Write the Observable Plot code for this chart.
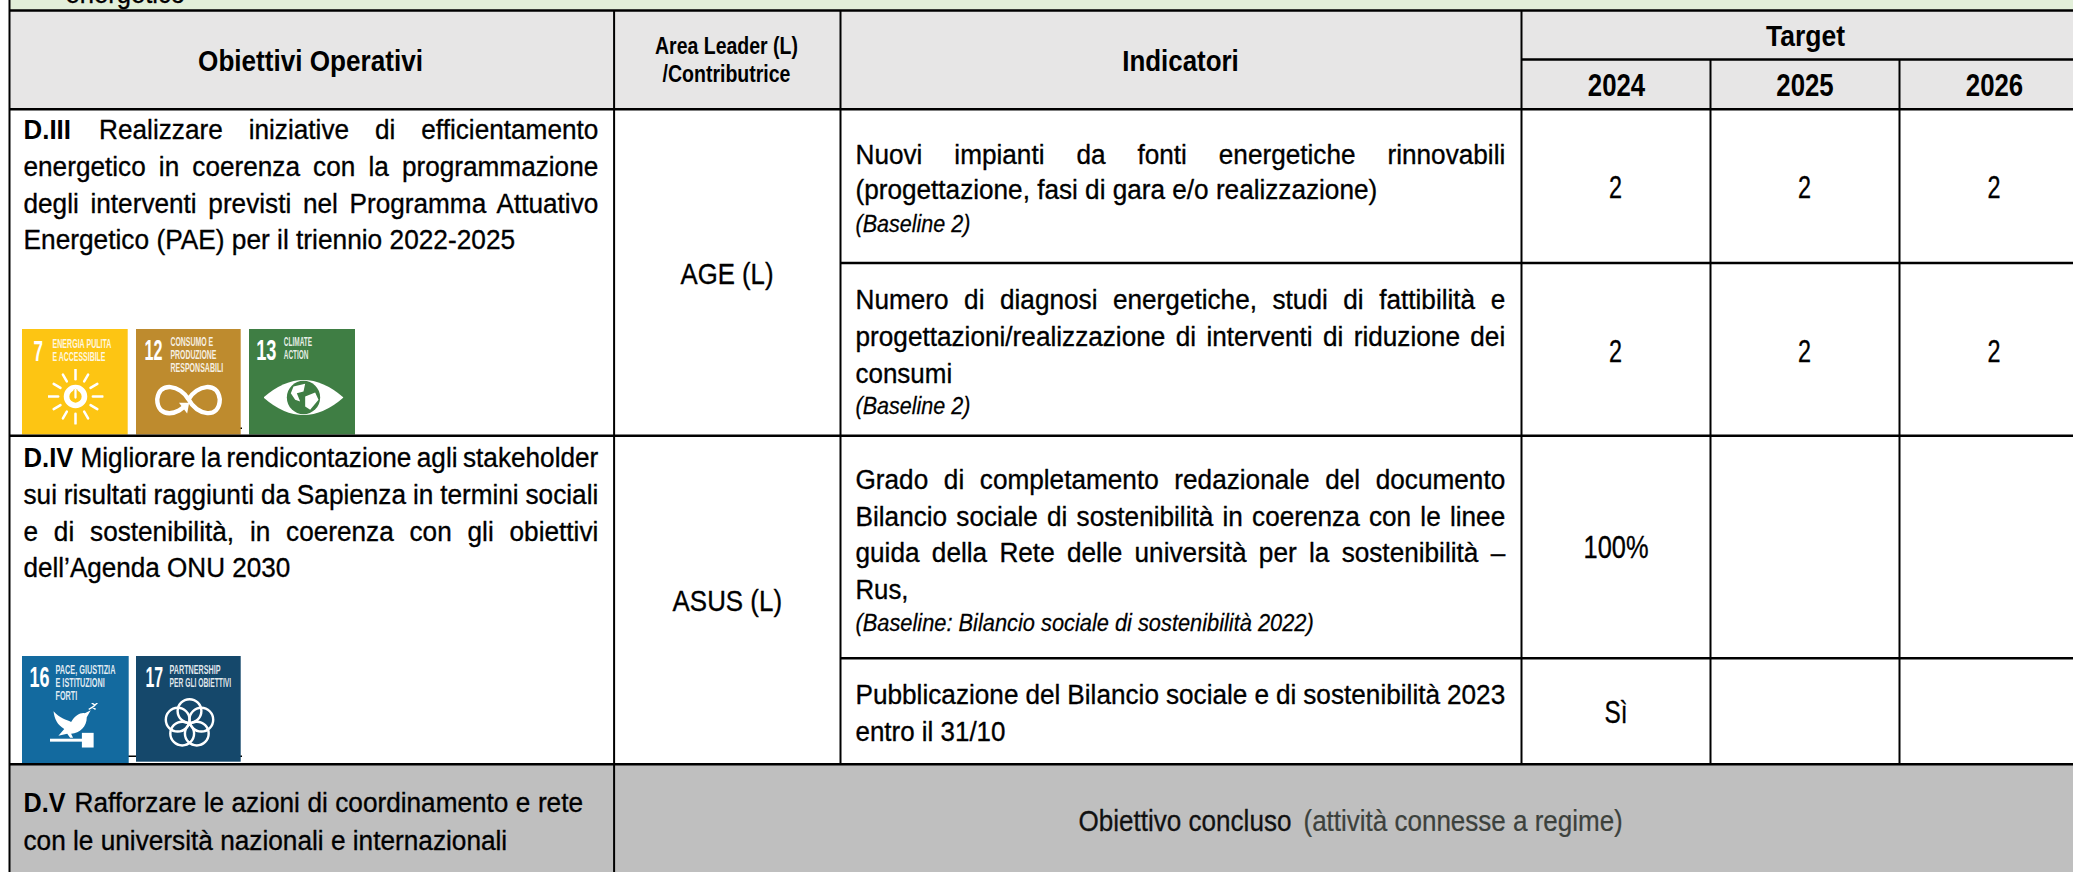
<!DOCTYPE html>
<html><head><meta charset="utf-8">
<style>html,body{margin:0;padding:0;background:#fff}svg{display:block}</style>
<script src="https://cdn.jsdelivr.net/npm/d3@7"></script>
<script src="https://cdn.jsdelivr.net/npm/@observablehq/plot@0.6"></script>
</head><body><div id="chart"></div>
<script>
// ---------- content ----------
const clippedTitle = ["energetico"];
const mainHeaders = ["Obiettivi Operativi", "Indicatori", "Target"];
const yearHeaders = ["2024", "2025", "2026"];
const areaHeader = ["Area Leader (L)", "/Contributrice"];
const objectiveIds = ["D.III", "D.IV", "D.V"];
const objectiveText = [
  "Realizzare iniziative di efficientamento",
  "energetico in coerenza con la programmazione",
  "degli interventi previsti nel Programma Attuativo",
  "Energetico (PAE) per il triennio 2022-2025",
  "Migliorare la rendicontazione agli stakeholder",
  "sui risultati raggiunti da Sapienza in termini sociali",
  "e di sostenibilità, in coerenza con gli obiettivi",
  "dell’Agenda ONU 2030",
  "Rafforzare le azioni di coordinamento e rete",
  "con le università nazionali e internazionali"
];
const areaLeaders = ["AGE (L)", "ASUS (L)"];
const indicatorText = [
  "Nuovi impianti da fonti energetiche rinnovabili",
  "(progettazione, fasi di gara e/o realizzazione)",
  "Numero di diagnosi energetiche, studi di fattibilità e",
  "progettazioni/realizzazione di interventi di riduzione dei",
  "consumi",
  "Grado di completamento redazionale del documento",
  "Bilancio sociale di sostenibilità in coerenza con le linee",
  "guida della Rete delle università per la sostenibilità –",
  "Rus,",
  "Pubblicazione del Bilancio sociale e di sostenibilità 2023",
  "entro il 31/10"
];
const baselineText = ["(Baseline 2)", "(Baseline 2)", "(Baseline: Bilancio sociale di sostenibilità 2022)"];
const targetValues = ["2", "2", "2", "2", "2", "2", "100%", "Sì"];
const concludedText = ["Obiettivo concluso", "(attività connesse a regime)"];
const sdgNumbers = ["7", "12", "13", "16", "17"];
const sdgLabels = ["ENERGIA PULITA", "E ACCESSIBILE", "CONSUMO E", "PRODUZIONE", "RESPONSABILI", "CLIMATE", "ACTION",
  "PACE, GIUSTIZIA", "E ISTITUZIONI", "FORTI", "PARTNERSHIP", "PER GLI OBIETTIVI"];

// ---------- layout ----------
const W = 2073, H = 872, FONT = "Liberation Sans", JUSTIFY_SCALE = 0.935;
const X = {left: 9, area: 613.6, ind: 840, t24: 1521, t25: 1710, t26: 1899, right: W};
const Y = {top: 10, tgt: 59, head: 108.7, r1: 262.5, r2: 435.3, r3: 657.7, r4: 763.7};
const COLS = {bar: "#E2EFD9", head: "#E7E6E6", done: "#BFBFBF"};

// slot = [x, baseline, width, justified]
const zip = (texts, slots) => texts.map((t, i) => ({t, x: slots[i][0], y: slots[i][1], w: slots[i][2], j: slots[i][3]}));
const groups = [];
function tx(rows, opts) {
  const className = "fit" + groups.length;
  groups.push({className, rows});
  return Plot.text(rows, {x: "x", y: "y", text: "t", fontFamily: FONT, fontSize: 28, fill: "#000", textAnchor: "start", className, ...opts});
}
const ink = {stroke: "#000", strokeWidth: 0.35};

const objSlots = [
  [98.6,138.3,499.4,1],[23,175,575,1],[23,212.3,575,1],[23,248.3,492,0],
  [80,466,518,1],[23,503.3,575,1],[23,540,575,1],[23,576,267,0],
  [74,811.7,508.7,1],[23,849.3,484,0]
];
const idSlots = [[23,138.3,47.5,0],[23,466,50,0],[23,811.7,42,0]];
const indSlots = [
  [855,163.3,650,1],[855,198.3,522,0],
  [855,308.3,650,1],[855,345.7,650,1],[855,382.3,96.7,0],
  [855,488.3,650,1],[855,525,650,1],[855,561.7,650,1],[855,598,53,0],
  [855,703.3,650,1],[855,740.7,150,0]
];
const baseSlots = [[855,231.7,115,0],[855,413.3,115,0],[855,630,458.5,0]];
const valueSlots = [
  [1615,197.7,13,0],[1804,197.7,13,0],[1993.5,197.7,13,0],
  [1615,361,13,0],[1804,361,13,0],[1993.5,361,13,0],
  [1615.5,557.7,65,0],[1615.5,722,23,0]
];
const headSlots = [[310,70,225,0],[1180,70.7,116.6,0],[1805,45,79,0]];
const yearSlots = [[1616,95.7,57.4,0],[1804.5,95.7,57.4,0],[1994,95.7,57.4,0]];
const areaSlots = [[726,53.3,143,0],[726,81.7,128,0]];
const leaderSlots = [[726.5,283.3,93,0],[726.8,610,109.6,0]];
const doneSlots = [[1078,830,213,0],[1303,830,319.4,0]];
const numSlots = [[33,360,9.5,0],[144,359.3,18,0],[255.7,359.3,20.3,0],[29,686,20,0],[145,686,17.7,0]];
const labelSlots = [
  [52,347,59,0],[52,360,53,0],
  [170,345.7,42.7,0],[170,358.7,46,0],[170,371.3,52.7,0],
  [283.3,345.7,28.4,0],[283.3,358.7,24.7,0],
  [55,673.3,60,0],[55,686,49.3,0],[55,699,21.7,0],
  [169,673.3,51,0],[169,686,61.7,0]
];

const tiles = [
  {x1:22,x2:127.7,y1:329,y2:434.5,c:"#FDC513"},
  {x1:136,x2:240.7,y1:329,y2:434.5,c:"#BE8B2E"},
  {x1:249,x2:355,y1:329,y2:434.5,c:"#3F7E44"},
  {x1:22,x2:128.7,y1:656,y2:763,c:"#136A9F"},
  {x1:136,x2:240.7,y1:656,y2:761.7,c:"#15486B"}
];
const svgUri = (vb, body) => "data:image/svg+xml," + encodeURIComponent(`<svg xmlns="http://www.w3.org/2000/svg" viewBox="${vb}">${body}</svg>`);
const rays = d3.range(12).map(i => {
  const a = i * Math.PI / 6;
  return `<line x1="${50+31*Math.cos(a)}" y1="${50+31*Math.sin(a)}" x2="${50+(i%3==0?49:45)*Math.cos(a)}" y2="${50+(i%3==0?49:45)*Math.sin(a)}"/>`;
}).join("");
const pictos = [
  {x:75,y:396,w:56,h:56,src:svgUri("0 0 100 100",
    `<g stroke="#fff" stroke-width="4.5" stroke-linecap="round" fill="none">${rays}<circle cx="50" cy="50" r="16" stroke-width="10"/><line x1="50" y1="40" x2="50" y2="54" stroke="#FDC513" stroke-width="8"/><line x1="50" y1="38" x2="50" y2="52" stroke-width="4"/></g>`)},
  {x:188,y:399,w:68,h:36,src:svgUri("0 0 200 105",
    `<path d="M100 52C76 10 14 -2 8 52C8 112 76 96 92 66M100 52C124 10 186 -2 192 52C192 112 124 100 100 52" fill="none" stroke="#fff" stroke-width="13"/><path d="M72 62L102 62L96 94Z" fill="#fff"/>`)},
  {x:303,y:397,w:80,h:42,src:svgUri("0 0 240 126",
    `<path d="M0 63Q120 -42 240 63Q120 168 0 63Z" fill="#fff"/><circle cx="120" cy="63" r="50" fill="#3F7E44"/><path d="M90 30L125 22L120 45L100 50L110 75L95 70L82 50ZM125 60L155 48L165 70L140 100L125 90Z" fill="#fff"/>`)},
  {x:76,y:725,w:54,h:46,src:svgUri("0 0 110 94",
    `<path d="M8 18C22 34 34 34 44 40C52 26 64 20 72 22L84 16L76 30C76 50 62 62 44 64L48 72L42 72L36 64L18 68L30 54C16 46 10 34 8 18Z" fill="#fff"/><path d="M80 14Q90 10 98 0M88 10l6 4M92 5l-6-4" stroke="#fff" stroke-width="3" fill="none"/><rect x="0" y="74" width="68" height="6" fill="#fff"/><rect x="66" y="62" width="24" height="30" fill="#fff"/>`)},
  {x:189,y:723,w:54,h:54,src:svgUri("0 0 100 100",
    `<g fill="none" stroke="#fff" stroke-width="4.5">${d3.range(5).map(i => {const a = -Math.PI/2 + i*2*Math.PI/5; return `<circle cx="${50+23*Math.cos(a)}" cy="${50+23*Math.sin(a)}" r="22"/>`;}).join("")}</g>`)}
];

// ---------- plot ----------
const hLines = [[X.left,Y.top],[X.t24,Y.tgt],[X.left,Y.head],[X.ind,Y.r1],[X.left,Y.r2],[X.ind,Y.r3],[X.left,Y.r4]].map(([x1,y]) => ({x1,x2:X.right,y}));
const vLines = [[X.left,0,H],[X.area,Y.top,H],[X.ind,Y.top,Y.r4],[X.t24,Y.top,Y.r4],[X.t25,Y.tgt,Y.r4],[X.t26,Y.tgt,Y.r4]].map(([x,y1,y2]) => ({x,y1,y2}));
const fills = [
  {x1:0,x2:W,y1:0,y2:Y.top,c:COLS.bar},
  {x1:0,x2:X.left,y1:0,y2:H,c:"#fff"},
  {x1:X.left,x2:W,y1:Y.top,y2:Y.head,c:COLS.head},
  {x1:X.left,x2:W,y1:Y.r4,y2:H,c:COLS.done}
];
const specks = [{x1:128,x2:242,y:755.8},{x1:240,x2:242,y:427.8}];

const chart = Plot.plot({
  width: W, height: H, margin: 0,
  x: {domain: [0, W], range: [0, W], axis: null},
  y: {domain: [0, H], range: [0, H], axis: null},
  style: {background: "#fff", fontFamily: FONT},
  marks: [
    Plot.rect(fills, {x1:"x1", x2:"x2", y1:"y1", y2:"y2", fill:d => d.c}),
    Plot.ruleY(specks, {x1:"x1", x2:"x2", y:"y", stroke:"#000", strokeWidth:1.5}),
    Plot.rect(tiles, {x1:"x1", x2:"x2", y1:"y1", y2:"y2", fill:d => d.c}),
    Plot.image(pictos, {x:"x", y:"y", width:"w", height:"h", src:"src"}),
    Plot.ruleX(vLines, {x:"x", y1:"y1", y2:"y2", stroke:"#000", strokeWidth:2}),
    Plot.ruleY(hLines, {x1:"x1", x2:"x2", y:"y", stroke:"#000", strokeWidth:2.4}),
    tx(zip(clippedTitle, [[65,2,119.5,0]]), {...ink}),
    tx(zip(mainHeaders, headSlots), {textAnchor:"middle", fontWeight:"bold", fontSize:30}),
    tx(zip(yearHeaders, yearSlots), {textAnchor:"middle", fontWeight:"bold", fontSize:31}),
    tx(zip(areaHeader, areaSlots), {textAnchor:"middle", fontWeight:"bold", fontSize:24}),
    tx(zip(objectiveIds, idSlots), {fontWeight:"bold"}),
    tx(zip(objectiveText, objSlots), {...ink}),
    tx(zip(areaLeaders, leaderSlots), {textAnchor:"middle", fontSize:30, ...ink}),
    tx(zip(indicatorText, indSlots), {...ink}),
    tx(zip(baselineText, baseSlots), {fontStyle:"italic", fontSize:23, ...ink, strokeWidth:0.25}),
    tx(zip(targetValues, valueSlots), {textAnchor:"middle", fontSize:31, ...ink}),
    tx(zip(concludedText.slice(0,1), doneSlots), {fontSize:29, fill:"#111", stroke:"#111", strokeWidth:0.3}),
    tx(zip(concludedText.slice(1), doneSlots.slice(1)), {fontSize:29, fill:"#3c413c", stroke:"#3c413c", strokeWidth:0.25}),
    tx(zip(sdgNumbers, numSlots), {fontWeight:"bold", fontSize:30, fill:"#fff"}),
    tx(zip(sdgLabels, labelSlots), {fontWeight:"bold", fontSize:12, fill:"#fff", fillOpacity:0.88})
  ]
});
document.getElementById("chart").appendChild(chart);

// condense and justify each text line to the width it has in the reference
for (const {className, rows} of groups) {
  d3.select(chart).selectAll("g." + className + " text").each(function(i) {
    const row = rows[i], sel = d3.select(this);
    sel.attr("y", 0).attr("dy", null);
    const natural = this.getComputedTextLength();
    let f = row.w / natural;
    if (row.j) {
      f = JUSTIFY_SCALE;
      const spaces = row.t.split(" ").length - 1;
      sel.style("word-spacing", ((row.w / f - natural) / spaces) + "px");
    }
    sel.attr("transform", sel.attr("transform") + ` scale(${f},1)`);
  });
}
</script></body></html>
